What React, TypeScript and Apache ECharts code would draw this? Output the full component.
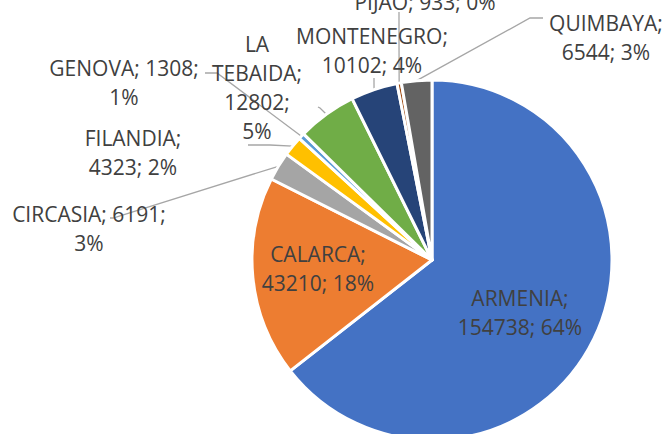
import React, { useEffect, useRef } from "react";
import * as echarts from "echarts";

const categories = ["ARMENIA", "CALARCA", "CIRCASIA", "FILANDIA", "GENOVA", "LA TEBAIDA", "MONTENEGRO", "PIJAO", "QUIMBAYA"];
const values = [154738, 43210, 6191, 4323, 1308, 12802, 10102, 933, 6544];
const colors = ["#4472C4", "#ED7D31", "#A5A5A5", "#FFC000", "#5B9BD5", "#70AD47", "#264478", "#9E480E", "#636363"];

// label line-break templates ({b} name, {c} value, {d} percent)
const templates = [
  "{b};\n{c}; {d}%",
  "{b};\n{c}; {d}%",
  "{b}; {c};\n{d}%",
  "{b};\n{c}; {d}%",
  "{b}; {c};\n{d}%",
  "{b};\n{c};\n{d}%",
  "{b};\n{c}; {d}%",
  "{b}; {c}; {d}%",
  "{b};\n{c}; {d}%",
];

// label centres (layout)
const labelPos: number[][] = [
  [520, 312],
  [318, 268],
  [89, 228],
  [133, 152],
  [124, 82],
  [257, 87],
  [372, 50],
  [425, 2],
  [606, 37],
];

// leader line points after the anchor on the pie edge (layout)
const leaderPaths: (number[][] | null)[] = [
  null,
  null,
  [[113, 218], [110, 218]],
  [[270, 145], [248, 145]],
  [[217, 73], [205, 73]],
  [[320, 108], [318, 107]],
  [[374, 82], [374, 78]],
  [[399, 40], [399, 12]],
  [[530, 18], [543, 18]],
];

const CX = 432;
const CY = 260;
const R = 180;

export default function App() {
  const ref = useRef<HTMLDivElement>(null);
  useEffect(() => {
    document.body.style.margin = "0";
    const chart = echarts.init(ref.current!, undefined, { renderer: "svg" });
    const total = values.reduce((a, b) => a + b, 0);
    const anchors: number[][] = [];
    let cum = 0;
    values.forEach((v) => {
      const mid = ((cum + v / 2) / total) * Math.PI * 2;
      anchors.push([CX + R * Math.sin(mid), CY - R * Math.cos(mid)]);
      cum += v;
    });
    const data = categories.map((name, i) => ({
      name,
      value: values[i],
      itemStyle: { color: colors[i] },
      label: { position: i < 2 ? "inside" : "outside" },
      labelLine: { show: i >= 2 },
    }));
    chart.setOption({
      animation: false,
      series: [
        {
          type: "pie",
          center: [CX, CY],
          radius: [0, R],
          startAngle: 90,
          clockwise: true,
          avoidLabelOverlap: false,
          data,
          itemStyle: { borderColor: "#ffffff", borderWidth: 3 },
          label: {
            color: "#404040",
            fontFamily: "Open Sans",
            fontSize: 21,
            lineHeight: 29,
            align: "center",
            formatter: (p: any) => {
              const pct = Math.round((p.value / total) * 100);
              const name = p.dataIndex === 5 ? p.name.replace(" ", "\n") : p.name;
              return templates[p.dataIndex]
                .replace("{b}", name)
                .replace("{c}", String(p.value))
                .replace("{d}", String(pct));
            },
          },
          labelLine: {
            lineStyle: { color: "#A6A6A6", width: 1.3 },
            length: 10,
            length2: 10,
          },
          labelLayout: (params: any) => {
            const i = params.dataIndex;
            const [x, y] = labelPos[i];
            const out: any = { x, y, align: "center", verticalAlign: "middle" };
            const path = leaderPaths[i];
            if (path) {
              out.labelLinePoints = [anchors[i], ...path];
            }
            return out;
          },
        },
      ],
    });
    return () => chart.dispose();
  }, []);
  return <div ref={ref} style={{ width: 665, height: 434 }} />;
}
